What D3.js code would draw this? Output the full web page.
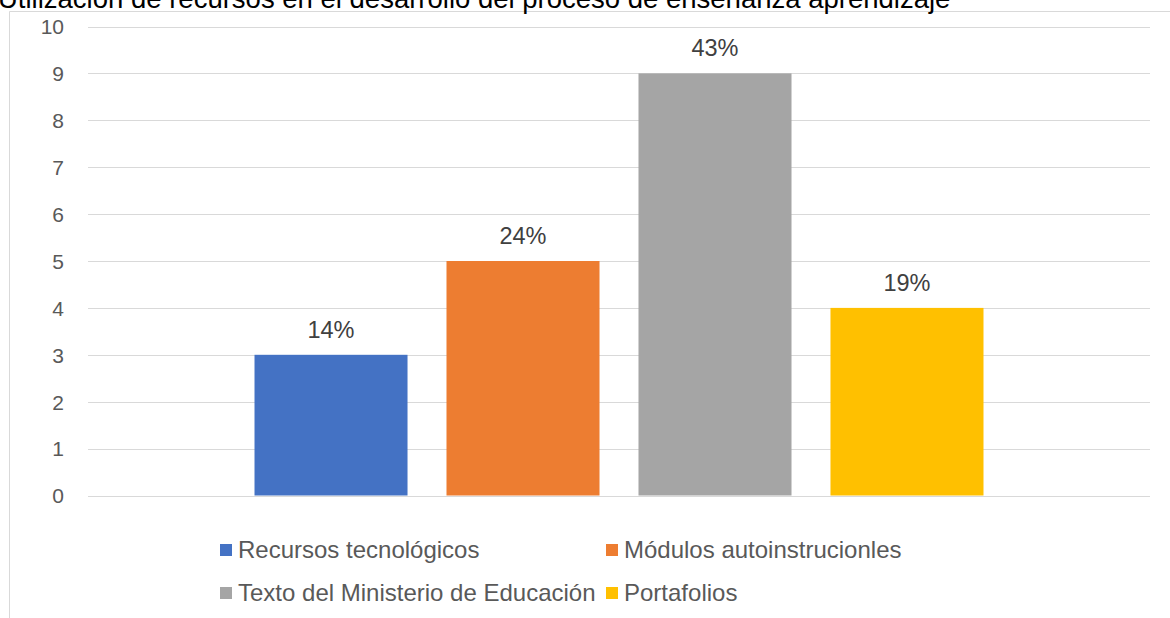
<!DOCTYPE html>
<html>
<head>
<meta charset="utf-8">
<script src="https://cdn.jsdelivr.net/npm/d3@7"></script>
<style>
  html, body { margin: 0; padding: 0; background: #fff; }
  svg { display: block; }
  text { font-family: "Liberation Sans", Arial, sans-serif; }
</style>
</head>
<body>
<svg id="chart" width="1170" height="618"></svg>
<script>
const title = "Utilización de recursos en el desarrollo del proceso de enseñanza aprendizaje";
const seriesNames = ["Recursos tecnológicos", "Módulos autoinstrucionles", "Texto del Ministerio de Educación", "Portafolios"];
const seriesValues = [3, 5, 9, 4];
const seriesLabels = ["14%", "24%", "43%", "19%"];
const seriesColors = ["#4472C4", "#ED7D31", "#A5A5A5", "#FFC000"];
const yTicks = [0, 1, 2, 3, 4, 5, 6, 7, 8, 9, 10];

const svg = d3.select("#chart");
const W = 1170, H = 618;
const plot = { left: 88, right: 1150, top: 26.5, bottom: 495.5 };

// chart frame (cut off at the right and bottom)
svg.append("path")
  .attr("d", `M9.5,${H} L9.5,11.5 L${W},11.5`)
  .attr("fill", "none").attr("stroke", "#d9d9d9").attr("stroke-width", 1);

// title
svg.append("text")
  .attr("x", -2).attr("y", 8)
  .attr("font-size", 27.5).attr("fill", "#000")
  .text(title);

const y = d3.scaleLinear().domain([0, 10]).range([plot.bottom, plot.top]);

const outer = d3.scaleBand().domain(["g"]).range([plot.left, plot.right])
  .paddingInner(0).paddingOuter(0.2284);
const inner = d3.scaleBand().domain(seriesNames).range([0, outer.bandwidth()])
  .paddingInner(0.203).paddingOuter(0);

// gridlines
svg.append("g").selectAll("line").data(yTicks).join("line")
  .attr("x1", plot.left).attr("x2", plot.right)
  .attr("y1", d => Math.round(y(d)) + 0.5).attr("y2", d => Math.round(y(d)) + 0.5)
  .attr("stroke", "#d9d9d9").attr("stroke-width", 1);

// y axis labels
const yAxis = d3.axisLeft(y).tickValues(yTicks).tickSize(0).tickPadding(0);
const ya = svg.append("g").attr("transform", `translate(64,0)`).call(yAxis);
ya.select(".domain").remove();
ya.selectAll("text")
  .attr("font-family", "'Liberation Sans', Arial, sans-serif")
  .attr("font-size", 21).attr("fill", "#595959").attr("dy", "0.35em");

// bars
const g = svg.append("g");
g.selectAll("rect").data(seriesNames).join("rect")
  .attr("x", (d) => outer("g") + inner(d))
  .attr("width", inner.bandwidth())
  .attr("y", (d, i) => y(seriesValues[i]))
  .attr("height", (d, i) => y(0) - y(seriesValues[i]))
  .attr("fill", (d, i) => seriesColors[i]);

// data labels
g.selectAll("text").data(seriesNames).join("text")
  .attr("x", d => outer("g") + inner(d) + inner.bandwidth() / 2)
  .attr("y", (d, i) => y(seriesValues[i]) - 17)
  .attr("text-anchor", "middle")
  .attr("font-size", 23.5).attr("fill", "#404040")
  .text((d, i) => seriesLabels[i]);

// legend
const legendPos = [
  { x: 220, y: 550 }, { x: 606, y: 550 },
  { x: 220, y: 593 }, { x: 606, y: 593 }
];
const lg = svg.append("g").selectAll("g").data(seriesNames).join("g")
  .attr("transform", (d, i) => `translate(${legendPos[i].x},${legendPos[i].y})`);
lg.append("rect").attr("x", 0).attr("y", -6).attr("width", 12).attr("height", 12)
  .attr("fill", (d, i) => seriesColors[i]);
lg.append("text").attr("x", 18).attr("y", 0).attr("dy", "0.35em")
  .attr("font-size", 24).attr("fill", "#595959")
  .text(d => d);
</script>
</body>
</html>
